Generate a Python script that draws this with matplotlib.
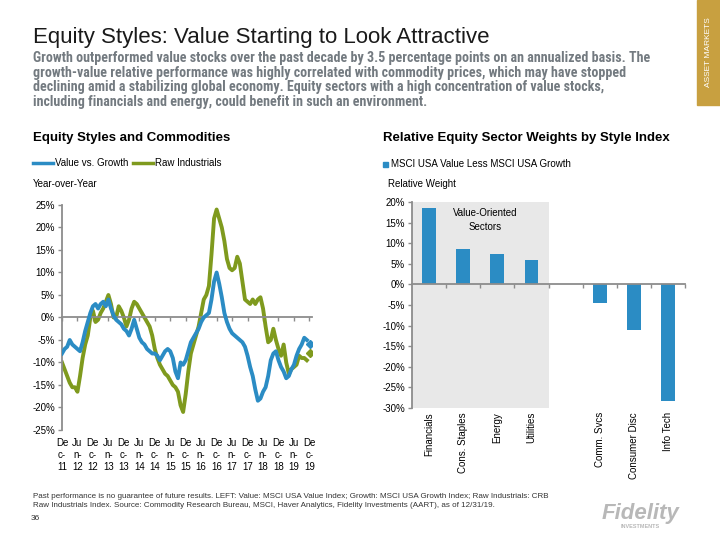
import numpy as np
import matplotlib
matplotlib.use("Agg")
import matplotlib.pyplot as plt
from matplotlib import font_manager
from matplotlib.patches import Rectangle

plt.rcParams['font.family'] = ['Liberation Sans', 'DejaVu Sans']

# ---- data -------------------------------------------------------------
# monthly readings, Dec 2011 .. Nov 2019 (year-over-year, %)
value_vs_growth = [
    -8, -7, -6.5, -5, -6, -6.5, -7, -7.5, -5.5, -3, -1, 1,
    2.5, 3, 2, 3, 3.5, 2.5, 4, 2, 0.5, -0.5, -1, -1.5,
    -2.5, -3, -4, -2.5, -0.5, -2.5, -4.5, -5.5, -6, -7, -7.5, -8,
    -8, -8.5, -9.5, -8.5, -7.5, -7, -7.5, -9, -12, -13.5, -10, -10.5,
    -9.5, -7.5, -5.5, -4.5, -3.5, -2.5, -1, 0, 0.5, 1, 4, 8,
    10, 7.5, 4.5, 1, -1, -2.5, -3.5, -4, -4.5, -5, -5.5, -6.5,
    -8.5, -11, -13, -16, -18.5, -18, -16.5, -15.5, -13, -9.5, -8, -7.5,
    -9.5, -11, -12, -13.5, -13, -11.5, -10.5, -8.5, -7, -6, -4.5, -5,
]
raw_industrials = [
    -10, -11.5, -13, -14.5, -15.5, -15.5, -16.5, -13, -9, -6, -4, 0,
    1.5, -1, -0.5, 1, 2, 3.5, 5, 3, 0, 0, 2.5, 1.5,
    0, -2, -0.5, 2, 3.5, 3, 2, 1, 0, -1, -2, -4,
    -7, -9, -10.5, -11.5, -12.5, -13, -14, -15, -15.5, -16.5, -19.5, -21,
    -17, -12, -8, -6, -4, -2, 1, 4, 5, 7, 14, 22,
    24, 22, 20, 17, 13, 11, 10.5, 11, 13.5, 12, 8, 4,
    3.5, 3, 4, 3, 4, 4.5, 2, -2, -5.5, -5, -2.5, -5,
    -7, -8.5, -6, -10, -12.5, -11.5, -11, -10.5, -8.5, -9, -9, -9.5,
]
latest_value = -5.8      # Dec 2019 marker
latest_raw = -7.8
x_labels = ["De\nc-\n11", "Ju\nn-\n12", "De\nc-\n12", "Ju\nn-\n13", "De\nc-\n13",
            "Ju\nn-\n14", "De\nc-\n14", "Ju\nn-\n15", "De\nc-\n15", "Ju\nn-\n16",
            "De\nc-\n16", "Ju\nn-\n17", "De\nc-\n17", "Ju\nn-\n18", "De\nc-\n18",
            "Ju\nn-\n19", "De\nc-\n19"]

sectors = ["Financials", "Cons. Staples", "Energy", "Utilities", "",
           "Comm. Svcs", "Consumer Disc", "Info Tech"]
rel_weight = [18.6, 8.7, 7.3, 6.0, np.nan, -4.4, -11.0, -28.2]
n_value_sectors = 4

BLUE = '#2b8cc4'
GREEN = '#7f9a1e'
GRAY = '#8c8c8c'


def fx(px):
    return px / 720


def fy(py):
    return 1 - py / 540


fig = plt.figure(figsize=(7.2, 5.4), dpi=100)
renderer = fig.canvas.get_renderer()

# ---- header -----------------------------------------------------------
fig.text(fx(33), fy(38), "Equity Styles: Value Starting to Look Attractive",
         fontsize=16, va='center', color='#1a1a1a')

names = {f.name for f in font_manager.fontManager.ttflist}
sub_font = 'Liberation Sans'
for cand in ['Liberation Sans Narrow', 'Roboto Condensed', 'Open Sans Condensed',
             'DejaVu Sans Condensed']:
    if cand in names:
        sub_font = cand
        break
sub_lines = [
    "Growth outperformed value stocks over the past decade by 3.5 percentage points on an annualized basis. The",
    "growth-value relative performance was highly correlated with commodity prices, which may have stopped",
    "declining amid a stabilizing global economy. Equity sectors with a high concentration of value stocks,",
    "including financials and energy, could benefit in such an environment.",
]
# fit the first line to its width in the reference (33 px -> 660 px)
probe = fig.text(0, 0, sub_lines[0], fontsize=10, family=sub_font, weight='bold')
w = probe.get_window_extent(renderer).width
probe.remove()
sub_size = min(10.1, 10 * 627 / w)
for i, line in enumerate(sub_lines):
    fig.text(fx(33), fy(58 + 14.7 * i), line, fontsize=sub_size, family=sub_font,
             weight='bold', color='#737a80', va='center')

fig.add_artist(Rectangle((fx(697), fy(105)), fx(23), 105 / 540,
                         transform=fig.transFigure, color='#c8a040'))
fig.text(fx(709), fy(52), "ASSET MARKETS", rotation=90, color='white',
         fontsize=6, ha='center', va='center')

fig.text(fx(33), fy(138), "Equity Styles and Commodities", fontsize=9.5,
         weight='bold', va='center')
fig.text(fx(383), fy(138), "Relative Equity Sector Weights by Style Index",
         fontsize=9.5, weight='bold', va='center')

# left legend
fig.add_artist(plt.Line2D([fx(33), fx(53)], [fy(163), fy(163)], color=BLUE,
                          lw=2.5, transform=fig.transFigure))
fig.text(fx(55), fy(163), "Value vs. Growth", fontsize=7, va='center')
fig.add_artist(plt.Line2D([fx(133), fx(153)], [fy(163), fy(163)], color=GREEN,
                          lw=2.5, transform=fig.transFigure))
fig.text(fx(155), fy(163), "Raw Industrials", fontsize=7, va='center')
fig.text(fx(33), fy(184), "Year-over-Year", fontsize=7, va='center')

# right legend
fig.add_artist(Rectangle((fx(383), fy(167)), fx(5), 5 / 540,
                         transform=fig.transFigure, color=BLUE))
fig.text(fx(391), fy(164), "MSCI USA Value Less MSCI USA Growth", fontsize=7,
         va='center')
fig.text(fx(388), fy(184), "Relative Weight", fontsize=7, va='center')

# ---- left chart -------------------------------------------------------
ax = fig.add_axes([fx(62), fy(430), fx(250), 225 / 540])
months = np.arange(len(value_vs_growth))
ax.plot(months, raw_industrials, color=GREEN, lw=2.8, zorder=2)
ax.plot(months, value_vs_growth, color=BLUE, lw=2.8, zorder=3)
end = len(value_vs_growth) + 0.4
ax.plot([end], [latest_value], marker='D', ms=4, color=BLUE, ls='none')
ax.plot([end], [latest_raw], marker='D', ms=4, color=GREEN, ls='none')

ax.set_xlim(0, 97)
ax.set_ylim(-25, 25)
ax.set_yticks(np.arange(-25, 26, 5))
ax.set_yticklabels([f"{v}%" for v in range(-25, 26, 5)], fontsize=7)
for s in ['top', 'right']:
    ax.spines[s].set_visible(False)
ax.spines['bottom'].set_position(('data', 0))
ax.spines['bottom'].set_color(GRAY)
ax.spines['bottom'].set_linewidth(1.3)
ax.spines['left'].set_color(GRAY)
ax.spines['left'].set_linewidth(1.3)
ticks = np.arange(0, 97, 6)
ax.set_xticks(ticks)
ax.set_xticklabels([])
ax.tick_params(axis='x', length=3, color=GRAY, width=1)
ax.tick_params(axis='y', length=3, color=GRAY, width=1, pad=2)
for t, lab in zip(ticks, x_labels):
    ax.text(t, -0.035, lab, transform=ax.get_xaxis_transform(), ha='center',
            va='top', fontsize=7, linespacing=1.25)

# ---- right chart ------------------------------------------------------
ax2 = fig.add_axes([fx(412), fy(408), fx(273), 206 / 540])
pos = np.arange(len(sectors))
ax2.axvspan(-0.5, n_value_sectors - 0.5, color='#e8e8e8', zorder=0, lw=0)
ax2.bar(pos, rel_weight, width=0.4, color=BLUE, zorder=2)
ax2.set_xlim(-0.5, len(sectors) - 0.5)
ax2.set_ylim(-30, 20)
ax2.set_yticks(np.arange(-30, 21, 5))
ax2.set_yticklabels([f"{v}%" for v in range(-30, 21, 5)], fontsize=7)
for s in ['top', 'right']:
    ax2.spines[s].set_visible(False)
ax2.spines['bottom'].set_position(('data', 0))
ax2.spines['bottom'].set_color(GRAY)
ax2.spines['bottom'].set_linewidth(1.3)
ax2.spines['left'].set_color(GRAY)
ax2.spines['left'].set_linewidth(1.3)
ax2.set_xticks(pos + 0.5)
ax2.set_xticklabels([])
ax2.tick_params(axis='x', length=3, color=GRAY, width=1)
ax2.tick_params(axis='y', length=3, color=GRAY, width=1, pad=2)
for p, name in zip(pos, sectors):
    ax2.text(p, -0.02, name, transform=ax2.get_xaxis_transform(), rotation=90,
             ha='center', va='top', fontsize=7)
ax2.text((n_value_sectors - 1) / 2 + 0.15, 15.6, "Value-Oriented\nSectors",
         ha='center', va='center', fontsize=7, linespacing=1.5)

# ---- footer -----------------------------------------------------------
foot = ("Past performance is no guarantee of future results. LEFT: Value: MSCI USA Value Index; Growth: MSCI USA Growth Index; Raw Industrials: CRB\n"
        "Raw Industrials Index. Source: Commodity Research Bureau, MSCI, Haver Analytics, Fidelity Investments (AART), as of 12/31/19.")
fig.text(fx(33), fy(493), foot, fontsize=5.8, va='top', color='#333333',
         linespacing=1.4)
fig.text(fx(31), fy(519), "36", fontsize=6, va='center', color='#333333')
fig.text(fx(640), fy(514), "Fidelity", fontsize=16, weight='bold',
         style='italic', color='#b8b8b8', ha='center', va='center')
fig.text(fx(640), fy(527), "INVESTMENTS", fontsize=4, weight='bold',
         color='#b8b8b8', ha='center', va='center')

fig.savefig("out.png", dpi=100)
